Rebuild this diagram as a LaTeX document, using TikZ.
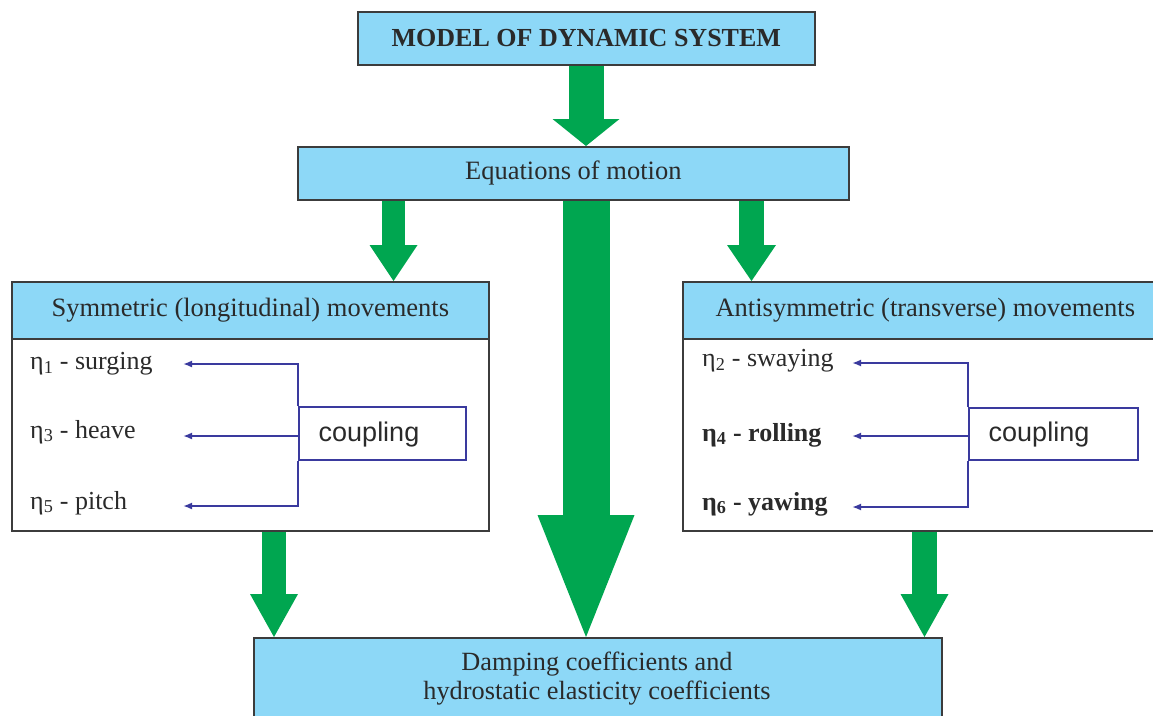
\documentclass[tikz,border=0pt]{standalone}
\usepackage{fontspec}
\setmainfont{Liberation Serif}
\newfontfamily\arialfont{Liberation Sans}
\usetikzlibrary{arrows.meta,backgrounds}
\definecolor{boxblue}{HTML}{8DD8F7}
\definecolor{arrgreen}{HTML}{00A650}
\definecolor{linkblue}{HTML}{3A3A9E}
\definecolor{edgegray}{HTML}{3C3C3C}
\definecolor{textgray}{HTML}{2A2A2A}
\tikzset{
  bluebox/.style={draw=edgegray, line width=1.6pt, fill=boxblue, inner sep=0pt, anchor=north west,
    font=\fontsize{26.5}{29}\selectfont, text=textgray},
  whitebox/.style={draw=edgegray, line width=1.6pt, fill=white, inner sep=0pt, anchor=north west},
  item/.style={anchor=west, inner sep=0pt, font=\fontsize{26}{28}\selectfont, text=textgray},
  cbox/.style={draw=linkblue, line width=1.8pt, fill=white, inner sep=0pt, anchor=north west},
  ctext/.style={inner sep=0pt, font=\arialfont\fontsize{27}{30}\selectfont, text=textgray},
  link/.style={draw=linkblue, line width=1.8pt, -{Latex[length=9pt,width=7pt]}},
  fatarrow/.style n args={3}{draw=arrgreen, line width=#1,
    -{Triangle[width=#2,length=#3,line width=0pt]}}
}
\begin{document}
\begin{tikzpicture}[x=1pt,y=-1pt]
\useasboundingbox (0,0) rectangle (1153,715);
% boxes
\node[bluebox, minimum width=457pt, minimum height=53pt, font=\fontsize{26}{29}\selectfont\bfseries] (top) at (357,11)
  {MODEL OF DYNAMIC SYSTEM};
\node[bluebox, minimum width=551pt, minimum height=53pt] (eq) at (297,146)
  {Equations of motion};
\node[whitebox, minimum width=477pt, minimum height=249pt] (lbody) at (11,281) {};
\node[bluebox, minimum width=477pt, minimum height=57pt] (lh) at (11,281)
  {Symmetric (longitudinal) movements};
\node[whitebox, minimum width=485pt, minimum height=249pt] (rbody) at (682,281) {};
\node[bluebox, minimum width=485pt, minimum height=57pt] (rh) at (682,281)
  {Antisymmetric (transverse) movements};
\node[bluebox, minimum width=688pt, minimum height=110pt] (bot) at (253,637) {};
\node[inner sep=0pt, align=center, font=\fontsize{26.3}{29}\selectfont, text=textgray] (bottext) at (597,679)
  {Damping coefficients and\\hydrostatic elasticity coefficients};

% left items
\node[item] (e1) at (30,364) {η\textsubscript{1} - surging};
\node[item] (e3) at (30,432) {η\textsubscript{3} - heave};
\node[item] (e5) at (30,503) {η\textsubscript{5} - pitch};
\node[cbox, minimum width=167pt, minimum height=53pt] (lc) at (298,406) {};
\node[ctext] (lct) at (369,435) {coupling};
\coordinate (t1) at (183,364);
\coordinate (t3) at (183,436);
\coordinate (t5) at (183,506);
\draw[link] (lc.north west) |- (t1);
\draw[link] (lc.west |- t3) -- (t3);
\draw[link] (lc.south west) |- (t5);

% right items
\node[item] (e2) at (702,361) {η\textsubscript{2} - swaying};
\node[item] (e4) at (702,435) {\bfseries η\textsubscript{4} - rolling};
\node[item] (e6) at (702,504) {\bfseries η\textsubscript{6} - yawing};
\node[cbox, minimum width=169pt, minimum height=52pt] (rc) at (968,407) {};
\node[ctext] (rct) at (1039,435) {coupling};
\coordinate (t2) at (852,363);
\coordinate (t4) at (852,436);
\coordinate (t6) at (852,507);
\draw[link] (rc.north west) |- (t2);
\draw[link] (rc.west |- t4) -- (t4);
\draw[link] (rc.south west) |- (t6);

% green arrows
\coordinate (xa) at (393.5,0);
\coordinate (xb) at (751.5,0);
\coordinate (xc) at (586,0);
\coordinate (xd) at (274,0);
\coordinate (xe) at (924.5,0);
\begin{scope}[on background layer]
\draw[fatarrow={35pt}{67pt}{27pt}] (top.south -| xc) -- (eq.north -| xc);
\draw[fatarrow={23pt}{48pt}{36pt}] (eq.south -| xa) -- (lh.north -| xa);
\draw[fatarrow={25pt}{49pt}{36pt}] (eq.south -| xb) -- (rh.north -| xb);
\draw[fatarrow={47pt}{97pt}{122pt}] (eq.south -| xc) -- (bot.north -| xc);
\draw[fatarrow={24pt}{48pt}{43pt}] (lbody.south -| xd) -- (bot.north -| xd);
\draw[fatarrow={25pt}{48pt}{43pt}] (rbody.south -| xe) -- (bot.north -| xe);
\end{scope}
\end{tikzpicture}
\end{document}
